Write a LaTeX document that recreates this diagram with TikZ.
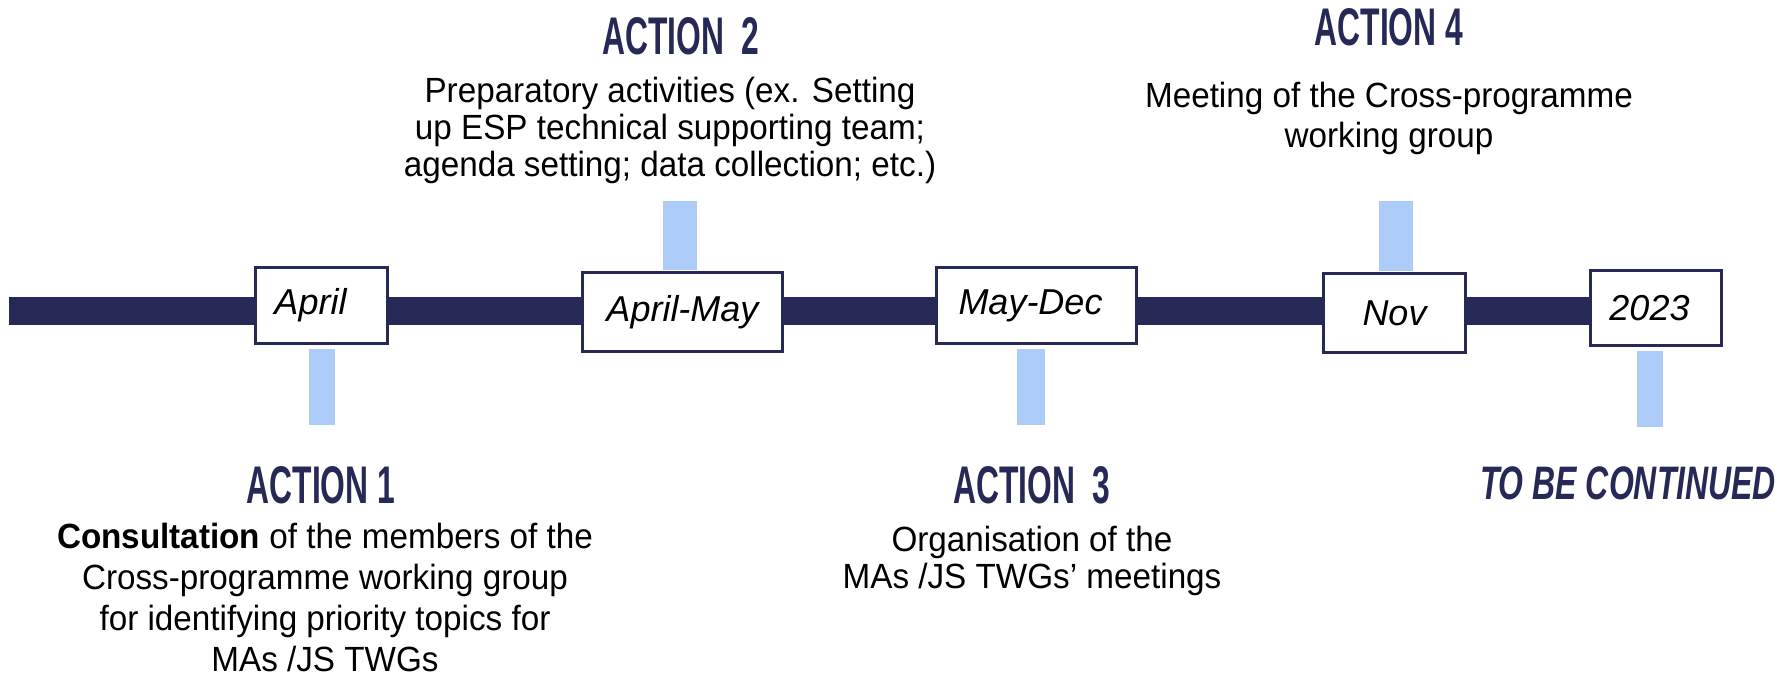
\documentclass[tikz,border=0pt]{standalone}
\usepackage{fontspec}
\setmainfont{Liberation Sans}
\newfontfamily\bodyfont{Liberation Sans}[FakeStretch=0.95]
\newfontfamily\actfont{Liberation Sans}[FakeStretch=0.6]
\newfontfamily\contfont{Liberation Sans}[FakeStretch=0.68]
\definecolor{navy}{RGB}{38,41,85}
\definecolor{lblue}{RGB}{173,203,247}
\begin{document}
\begin{tikzpicture}[x=1pt,y=-1pt,
  datebox/.style={draw=navy,line width=3pt,fill=white,inner sep=0pt,
    font=\fontsize{36}{40}\selectfont\itshape},
  acttitle/.style={text=navy,inner sep=0pt,anchor=base,
    font=\actfont\bfseries\fontsize{53}{60}\selectfont},
  conttitle/.style={text=navy,inner sep=0pt,anchor=base,
    font=\contfont\bfseries\itshape\fontsize{47}{50}\selectfont},
  body/.style={inner sep=0pt,anchor=base,align=center,
    font=\bodyfont\fontsize{35}{38}\selectfont},
  timeline/.style={draw=navy,line width=28pt},
  connbar/.style={fill=lblue}]
\useasboundingbox (0,0) rectangle (1792,685);
\coordinate (start) at (9,311);
% date boxes
\node[datebox,minimum width=132pt,minimum height=76pt] (apr) at (321.5,305.5) {April\kern22pt};
\node[datebox,minimum width=200pt,minimum height=79pt] (am) at (682.5,312) {April-May};
\node[datebox,minimum width=200pt,minimum height=76pt] (md) at (1036.5,305.5) {May-Dec\kern12pt};
\node[datebox,minimum width=142pt,minimum height=79pt] (nov) at (1394.5,313) {Nov};
\node[datebox,minimum width=131pt,minimum height=75pt] (y23) at (1656,308) {2023\kern13pt};
% timeline segments
\draw[timeline] (start) -- (start -| apr.west);
\draw[timeline] (apr.east |- start) -- (start -| am.west);
\draw[timeline] (am.east |- start) -- (start -| md.west);
\draw[timeline] (md.east |- start) -- (start -| nov.west);
\draw[timeline] (nov.east |- start) -- (start -| y23.west);
% light blue bars
\fill[connbar] (309,349) rectangle (335,425);
\fill[connbar] (663,201) rectangle (697,270);
\fill[connbar] (1017,349) rectangle (1045,425);
\fill[connbar] (1379,201) rectangle (1413,271);
\fill[connbar] (1637,351) rectangle (1663,427);
% titles
\node[acttitle] (t1) at (321,503) {ACTION 1};
\node[acttitle] (t2) at (681,55) {ACTION\ \ 2};
\node[acttitle] (t3) at (1032,503) {ACTION\ \ 3};
\node[acttitle] (t4) at (1389,46) {ACTION 4};
\node[conttitle] (t5) at (1628,499) {TO BE CONTINUED};
% bodies (anchor base = baseline of last line)
\node[body,font=\bodyfont\fontsize{35}{41}\selectfont] (b1) at (325,671) {{\bfseries Consultation} of the members of the\\Cross-programme working group\\for identifying priority topics for\\MAs /JS TWGs};
\node[body,font=\bodyfont\fontsize{35}{37}\selectfont] (b2) at (670,176) {Preparatory activities (ex. Setting\\up ESP technical supporting team;\\agenda setting; data collection; etc.)};
\node[body,font=\bodyfont\fontsize{35}{37}\selectfont] (b3) at (1032,588) {Organisation of the\\MAs /JS TWGs’ meetings};
\node[body,font=\bodyfont\fontsize{35}{40}\selectfont] (b4) at (1389,147) {Meeting of the Cross-programme\\working group};
\end{tikzpicture}
\end{document}
